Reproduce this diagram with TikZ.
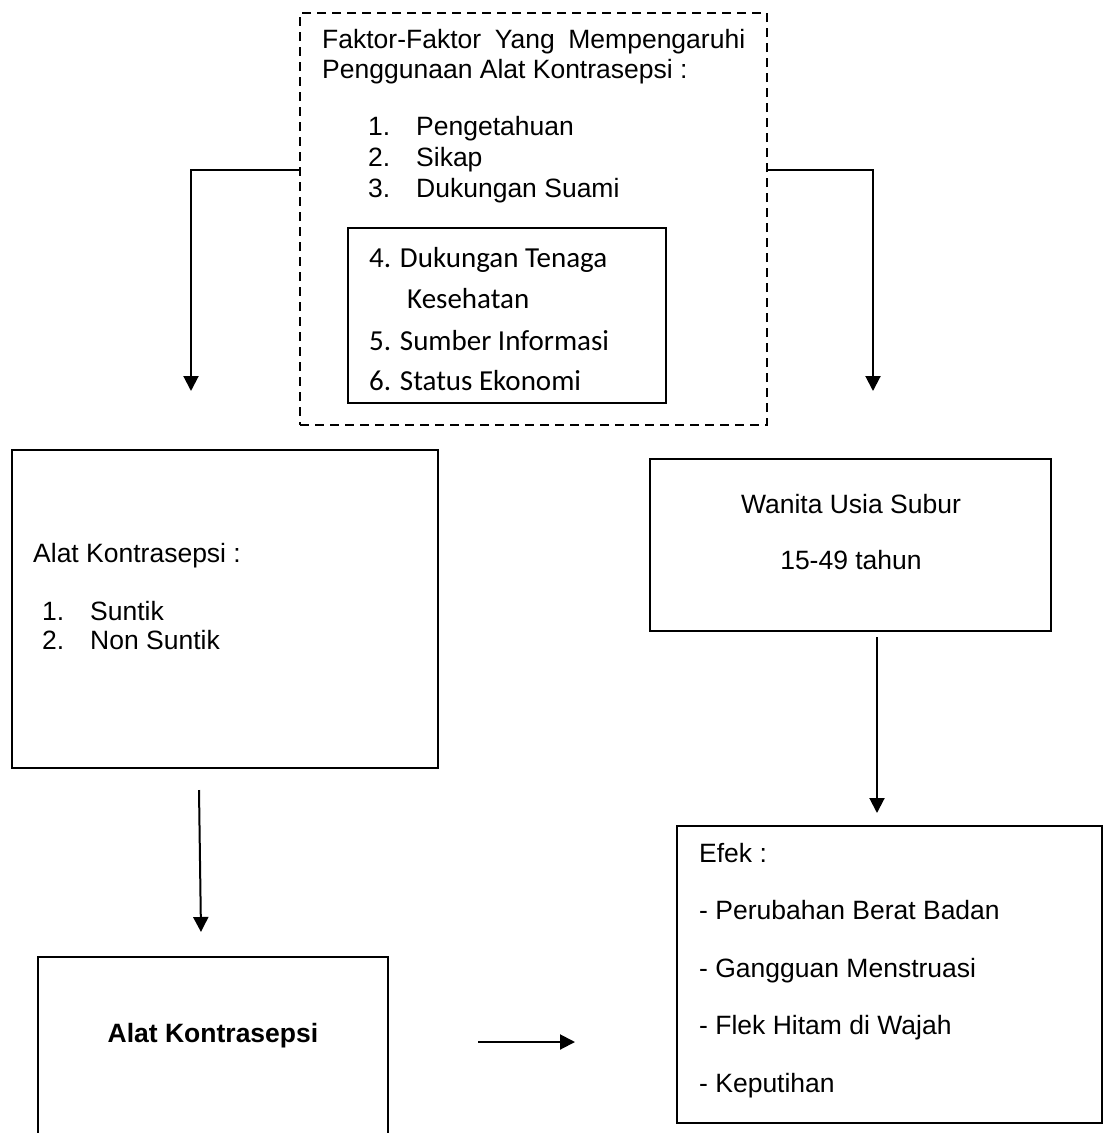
\documentclass[tikz,border=0pt]{standalone}
\usepackage{fontspec}
\setmainfont{Liberation Sans}
\newfontfamily\calibri{Carlito}
\usetikzlibrary{arrows.meta}

\begin{document}
\begin{tikzpicture}[x=1pt,y=-1pt,
    box/.style={draw, rectangle, line width=2pt, inner sep=0pt},
    dashbox/.style={box, dash pattern=on 9pt off 6pt},
    txt/.style={anchor=base west, inner sep=0pt, font=\fontsize{26.5}{32}\selectfont},
    ctxt/.style={txt, anchor=base},
    cal/.style={txt, font=\calibri\fontsize{29}{35}\selectfont},
    arr/.style={line width=2pt, -{Triangle[width=15pt,length=15pt]}}]
    \useasboundingbox (0,0) rectangle (1105,1133);
    \clip (0,0) rectangle (1105,1133);
    % Boxes
    \node[dashbox, minimum width=467pt, minimum height=412pt] (faktor) at (533.5,219) {};
    \node[box, minimum width=318pt, minimum height=175pt] (dalam) at (507,315.5) {};
    \node[box, minimum width=426pt, minimum height=318pt] (alat) at (225,609) {};
    \node[box, minimum width=401pt, minimum height=172pt] (wus) at (850.5,545) {};
    \node[box, minimum width=350pt, minimum height=220pt] (alatb) at (213,1067) {};
    \node[box, minimum width=425pt, minimum height=297pt] (efek) at (889.5,974.5) {};
    %
    % Texts in the dashed box
    \node[txt] (fk1) at (322,48) {\makebox[423pt][s]{Faktor-Faktor Yang Mempengaruhi}};
    \node[txt] (fk2) at (322,78) {Penggunaan Alat Kontrasepsi :};
    \node[txt] (fk3) at (368,135) {\makebox[48pt][l]{1.}Pengetahuan};
    \node[txt] (fk4) at (368,166) {\makebox[48pt][l]{2.}Sikap};
    \node[txt] (fk5) at (368,197) {\makebox[48pt][l]{3.}Dukungan Suami};
    \node[cal] (dl1) at (369,267) {4. Dukungan Tenaga};
    \node[cal] (dl2) at (407,308) {Kesehatan};
    \node[cal] (dl3) at (369,350) {5. Sumber Informasi};
    \node[cal] (dl4) at (369,390) {6. Status Ekonomi};
    % Texts in the other boxes
    \node[txt] (al1) at (33,562) {Alat Kontrasepsi :};
    \node[txt] (al2) at (42,620) {\makebox[48pt][l]{1.}Suntik};
    \node[txt] (al3) at (42,649) {\makebox[48pt][l]{2.}Non Suntik};
    \node[ctxt] (ws1) at (851,513) {Wanita Usia Subur};
    \node[ctxt] (ws2) at (851,569) {15-49 tahun};
    \node[ctxt] (ab1) at (213,1042) {\bfseries Alat Kontrasepsi};
    \node[txt] (ef0) at (699,862) {Efek :};
    \node[txt] (ef1) at (699,919) {- Perubahan Berat Badan};
    \node[txt] (ef2) at (699,977) {- Gangguan Menstruasi};
    \node[txt] (ef3) at (699,1034) {- Flek Hitam di Wajah};
    \node[txt] (ef4) at (699,1092) {- Keputihan};
    %
    % Arrows
    \coordinate (lknee) at (191,170);
    \coordinate (lend) at (191,391);
    \coordinate (rknee) at (873,170);
    \coordinate (rend) at (873,391);
    \coordinate (atop) at (199,790);
    \coordinate (abot) at (201,932);
    \coordinate (wtop) at (877,637);
    \coordinate (wbot) at (877,813);
    \coordinate (hkiri) at (478,1042);
    \coordinate (hkanan) at (575,1042);
    \draw[arr] (lknee -| faktor.west) -- (lknee) -- (lend);
    \draw[arr] (rknee -| faktor.east) -- (rknee) -- (rend);
    \draw[arr] (atop) -- (abot);
    \draw[arr] (wtop) -- (wbot);
    \draw[arr] (hkiri) -- (hkanan);
\end{tikzpicture}
\end{document}
